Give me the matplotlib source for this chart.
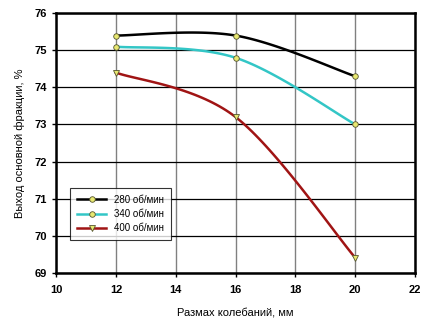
import matplotlib.pyplot as plt
import numpy as np

razmah = [12, 16, 20]
vyhod_280 = [75.4, 75.4, 74.3]
vyhod_340 = [75.1, 74.8, 73.0]
vyhod_400 = [74.4, 73.2, 69.4]
labels = ['280 об/мин', '340 об/мин', '400 об/мин']

plt.rcParams['font.family'] = ['Liberation Sans', 'DejaVu Sans']


def smooth(x, y, n=40):
    # excel-like bezier smoothing between points
    p = np.column_stack([x, y]).astype(float)
    out = []
    for i in range(len(p) - 1):
        prev = p[i - 1] if i > 0 else p[i]
        nxt = p[i + 2] if i + 2 < len(p) else p[i + 1]
        c1 = p[i] + (p[i + 1] - prev) / 6
        c2 = p[i + 1] - (nxt - p[i]) / 6
        t = np.linspace(0, 1, n)[:, None]
        seg = ((1 - t) ** 3 * p[i] + 3 * (1 - t) ** 2 * t * c1
               + 3 * (1 - t) * t ** 2 * c2 + t ** 3 * p[i + 1])
        out.append(seg if i == 0 else seg[1:])
    out = np.vstack(out)
    return out[:, 0], out[:, 1]


fig = plt.figure(figsize=(4.32, 3.25), dpi=100)
ax = fig.add_axes([0.13, 0.161, 0.831, 0.798])

series = [(vyhod_280, 'black', 'o'), (vyhod_340, '#33c6c6', 'o'), (vyhod_400, '#a01414', 'v')]
for (vals, col, mk), lab in zip(series, labels):
    sx, sy = smooth(razmah, vals)
    ax.plot(sx, sy, color=col, lw=1.8, zorder=3)
    ax.plot(razmah, vals, ls='none', marker=mk, ms=4, mfc='#e8e870',
            mec='#555530', mew=0.6, zorder=4)
    ax.plot([], [], color=col, lw=1.8, marker=mk, ms=4, mfc='#e8e870',
            mec='#555530', mew=0.6, label=lab)

ax.set_xlim(10, 22)
ax.set_ylim(69, 76)
ax.set_xticks(range(10, 23, 2))
ax.set_yticks(range(69, 77))
ax.xaxis.grid(True, color='#808080', lw=1)
ax.yaxis.grid(True, color='black', lw=0.9)
ax.set_axisbelow(True)
for s in ax.spines.values():
    s.set_linewidth(1.8)
ax.tick_params(labelsize=8, length=3, width=1)
ax.tick_params(axis='x', pad=6)
for t in ax.get_xticklabels() + ax.get_yticklabels():
    t.set_fontweight('bold')

ax.set_xlabel('Размах колебаний, мм', fontsize=8, labelpad=9)
ax.set_ylabel('Выход основной фракции, %', fontsize=8, labelpad=7)

leg = ax.legend(loc='upper left', bbox_to_anchor=(0.163, 0.422), bbox_transform=fig.transFigure,
                fontsize=7, frameon=True, fancybox=False, edgecolor='black',
                handlelength=3, borderpad=0.7, labelspacing=0.45, borderaxespad=0)
leg.get_frame().set_linewidth(0.8)

fig.savefig('out.png', dpi=100)
